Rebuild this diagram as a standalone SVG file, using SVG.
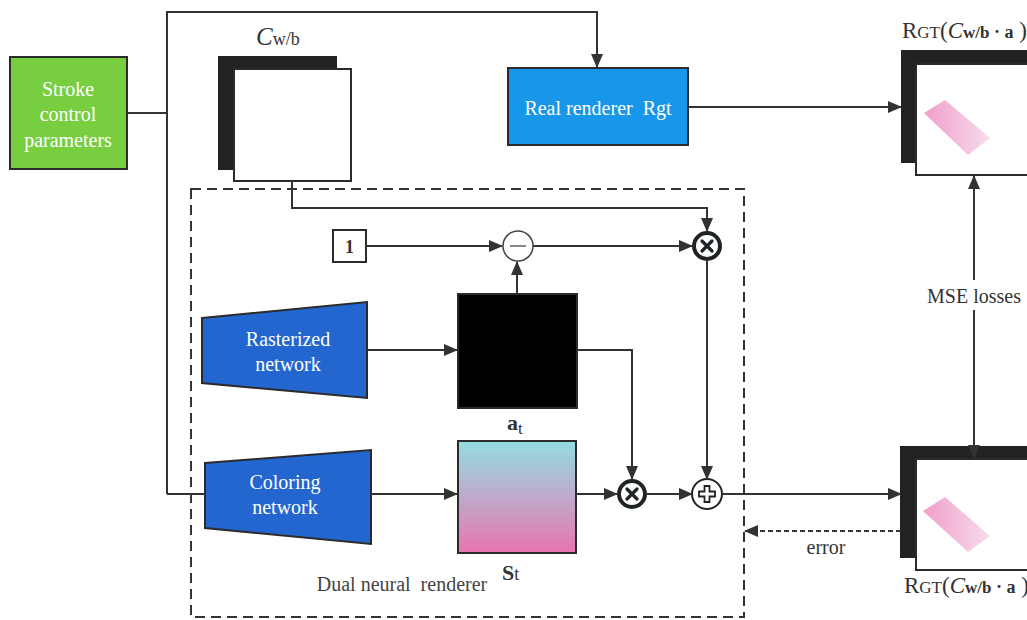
<svg xmlns="http://www.w3.org/2000/svg" width="1027" height="620" viewBox="0 0 1027 620" font-family="'Liberation Serif', 'DejaVu Serif', 'Times New Roman', serif">
  <style>
    .ln { fill: none; stroke: #333; stroke-width: 2; }
    .dash { fill: none; stroke: #333; stroke-width: 2; stroke-dasharray: 10 6; }
    text { font-family: "Liberation Serif", "DejaVu Serif", "Times New Roman", serif; }
    .wt { fill: #fff; font-size: 20px; text-anchor: middle; }
    .lbl { fill: #333; font-size: 20px; }
    .edge { stroke: #2b2b2b; stroke-width: 2; }
  </style>
  <defs>
    <marker id="arr" markerUnits="userSpaceOnUse" markerWidth="14" markerHeight="12" refX="13" refY="6" orient="auto">
      <path d="M0,0 L14,6 L0,12 Z" fill="#333"/>
    </marker>
    <linearGradient id="stGrad" x1="0" y1="0" x2="0" y2="1">
      <stop offset="0" stop-color="#93dcdf"/>
      <stop offset="0.5" stop-color="#bfaacb"/>
      <stop offset="1" stop-color="#e874b0"/>
    </linearGradient>
    <linearGradient id="pinkGrad" x1="0" y1="0" x2="1" y2="0">
      <stop offset="0" stop-color="#ef9fcb"/>
      <stop offset="1" stop-color="#f8dbeb"/>
    </linearGradient>
  </defs>

  <rect width="1027" height="620" fill="#fff"/>

  <!-- dual neural renderer frame -->
  <g id="dual-renderer">
    <rect class="dash" x="191" y="189" width="553" height="428"/>
    <text x="402" y="591" font-size="20" fill="#444" text-anchor="middle" xml:space="preserve">Dual neural  renderer</text>
  </g>

  <g id="stroke-params">
    <rect x="10" y="57" width="117" height="112" fill="#77cf3f" class="edge"/>
    <text class="wt" x="68" y="96">Stroke</text>
    <text class="wt" x="68" y="121">control</text>
    <text class="wt" x="68" y="147">parameters</text>
  </g>

  <g id="canvas-cwb">
    <rect x="218" y="56" width="119" height="114" fill="#222"/>
    <rect x="234" y="69" width="117" height="112" fill="#fff" class="edge"/>
    <text x="256" y="45" fill="#333"><tspan font-size="25" font-style="italic">C</tspan><tspan font-size="18">w/b</tspan></text>
  </g>

  <g id="real-renderer">
    <rect x="508" y="68" width="180" height="77" fill="#1896ea" class="edge"/>
    <text class="wt" x="598" y="115" xml:space="preserve">Real renderer  Rgt</text>
  </g>

  <g id="const-one">
    <rect x="333" y="230" width="33" height="32" fill="#fff" class="edge"/>
    <text x="349.5" y="253" font-size="18" font-weight="bold" fill="#333" text-anchor="middle">1</text>
  </g>

  <g id="op-minus">
    <circle cx="518" cy="246" r="15" fill="#fff" stroke="#444" stroke-width="1.5"/>
    <line x1="510" y1="246" x2="526" y2="246" stroke="#888" stroke-width="2"/>
  </g>

  <g id="op-mul-top">
    <circle cx="707" cy="246" r="13" fill="#fff" stroke="#1e2326" stroke-width="4"/>
    <path d="M702,241 L712,251 M712,241 L702,251" stroke="#1e2326" stroke-width="3.2" stroke-linecap="round"/>
  </g>

  <g id="op-mul-bottom">
    <circle cx="632" cy="494" r="13" fill="#fff" stroke="#1e2326" stroke-width="4"/>
    <path d="M627,489 L637,499 M637,489 L627,499" stroke="#1e2326" stroke-width="3.2" stroke-linecap="round"/>
  </g>

  <g id="op-add">
    <circle cx="707" cy="494" r="15" fill="#fff" stroke="#1e2326" stroke-width="2"/>
    <path d="M704.5,486 H709.5 V491.5 H715 V496.5 H709.5 V502 H704.5 V496.5 H699 V491.5 H704.5 Z" fill="#fff" stroke="#1e2326" stroke-width="1.8"/>
  </g>

  <g id="rasterized-network">
    <polygon points="202,318 367,302 367,398 202,383" fill="#2466cf" class="edge"/>
    <text class="wt" x="288" y="346">Rasterized</text>
    <text class="wt" x="288" y="371">network</text>
  </g>

  <g id="coloring-network">
    <polygon points="205,463 371,450 371,544 205,528" fill="#2466cf" class="edge"/>
    <text class="wt" x="285" y="489">Coloring</text>
    <text class="wt" x="285" y="514">network</text>
  </g>

  <g id="alpha-map">
    <rect x="458" y="294" width="119" height="114" fill="#000" class="edge"/>
    <text x="507" y="430" fill="#333" font-size="22" font-weight="bold">a<tspan font-size="17" font-weight="normal" dy="4">t</tspan></text>
  </g>

  <g id="color-map">
    <rect x="458" y="441" width="118" height="112" fill="url(#stGrad)" class="edge"/>
    <text x="502" y="580" fill="#333" font-size="22" font-weight="bold">S<tspan font-size="18" font-weight="normal">t</tspan></text>
  </g>

  <g id="target-render">
    <rect x="901" y="50" width="130" height="113" fill="#222"/>
    <rect x="916" y="64" width="120" height="111" fill="#fff" class="edge"/>
    <polygon points="924,113 945,100 990,138 968,155" fill="url(#pinkGrad)"/>
    <text x="902" y="38" fill="#333"><tspan font-size="23">R</tspan><tspan font-size="17">GT</tspan><tspan font-size="23">(</tspan><tspan font-size="23" font-style="italic">C</tspan><tspan font-size="17" font-weight="bold">w/b</tspan><tspan font-size="18" font-weight="bold"> · a</tspan><tspan font-size="23"> )</tspan></text>
  </g>

  <g id="neural-render">
    <rect x="900" y="446" width="130" height="112" fill="#222"/>
    <rect x="916" y="459" width="120" height="111" fill="#fff" class="edge"/>
    <polygon points="923,511 945,497 990,536 968,552" fill="url(#pinkGrad)"/>
    <text x="904" y="593" fill="#333"><tspan font-size="23">R</tspan><tspan font-size="17">GT</tspan><tspan font-size="23">(</tspan><tspan font-size="23" font-style="italic">C</tspan><tspan font-size="17" font-weight="bold">w/b</tspan><tspan font-size="18" font-weight="bold"> · a</tspan><tspan font-size="23"> )</tspan></text>
  </g>

  <g id="labels">
    <text class="lbl" x="974" y="303" text-anchor="middle">MSE losses</text>
    <text class="lbl" x="826" y="554" text-anchor="middle" font-size="19">error</text>
  </g>

  <!-- connectors, drawn last so arrowheads sit on top of the boxes -->
  <g id="connectors">
    <polyline class="ln" points="127,113 167,113"/>
    <polyline class="ln" points="167,494 167,12 597,12 597,67" marker-end="url(#arr)"/>
    <polyline class="ln" points="167,494 205,494"/>
    <polyline class="ln" points="292,181 292,208 707,208 707,231" marker-end="url(#arr)"/>
    <line class="ln" x1="366" y1="246" x2="502" y2="246" marker-end="url(#arr)"/>
    <line class="ln" x1="533" y1="246" x2="692" y2="246" marker-end="url(#arr)"/>
    <line class="ln" x1="517" y1="294" x2="517" y2="262" marker-end="url(#arr)"/>
    <line class="ln" x1="367" y1="350" x2="457" y2="350" marker-end="url(#arr)"/>
    <polyline class="ln" points="577,350 632,350 632,479" marker-end="url(#arr)"/>
    <line class="ln" x1="707" y1="260" x2="707" y2="479" marker-end="url(#arr)"/>
    <line class="ln" x1="371" y1="494" x2="457" y2="494" marker-end="url(#arr)"/>
    <line class="ln" x1="576" y1="494" x2="617" y2="494" marker-end="url(#arr)"/>
    <line class="ln" x1="646" y1="494" x2="692" y2="494" marker-end="url(#arr)"/>
    <line class="ln" x1="722" y1="494" x2="901" y2="494" marker-end="url(#arr)"/>
    <line class="ln" x1="688" y1="107" x2="901" y2="107" marker-end="url(#arr)"/>
    <line class="ln" x1="901" y1="531" x2="745" y2="531" stroke-dasharray="5 3" marker-end="url(#arr)"/>
    <line class="ln" x1="974" y1="280" x2="974" y2="176" marker-end="url(#arr)"/>
    <line class="ln" x1="974" y1="310" x2="974" y2="458" marker-end="url(#arr)"/>
  </g>
</svg>
